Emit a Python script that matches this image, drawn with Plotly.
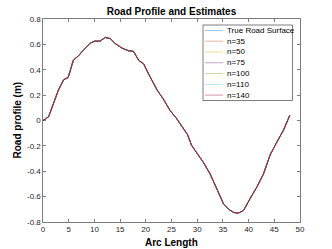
import plotly.graph_objects as go

# ---- data ----
arc_length = [0, 1.1, 2.0, 3.0, 4.0, 4.9, 5.9, 6.9, 8.2, 9.2, 10.0, 11.1, 12.1, 13.1,
              14.1, 15.4, 16.6, 17.6, 18.6, 19.6, 20.5, 22.2, 23.4, 24.7, 26.0, 27.3,
              28.1, 28.9, 29.9, 31.2, 32.5, 33.8, 35.1, 36.1, 37.1, 38.0, 39.0, 40.3,
              41.6, 42.9, 44.2, 45.5, 46.8, 48.0]
true_profile = [0, 0.03, 0.13, 0.24, 0.32, 0.34, 0.475, 0.51, 0.57, 0.61, 0.625, 0.625,
                0.655, 0.645, 0.605, 0.57, 0.55, 0.545, 0.475, 0.445, 0.37, 0.24, 0.17,
                0.08, 0.015, -0.063, -0.11, -0.195, -0.25, -0.33, -0.42, -0.535, -0.655,
                -0.70, -0.725, -0.73, -0.71, -0.615, -0.525, -0.42, -0.27, -0.17, -0.075,
                0.04]
# estimates are visually indistinguishable from the true surface
est_n35 = list(true_profile)
est_n50 = list(true_profile)
est_n75 = list(true_profile)
est_n100 = list(true_profile)
est_n110 = list(true_profile)
est_n140 = list(true_profile)

series_names = ["True Road Surface", "n=35", "n=50", "n=75", "n=100", "n=110", "n=140"]
series_values = [true_profile, est_n35, est_n50, est_n75, est_n100, est_n110, est_n140]
x_ticks = [0, 5, 10, 15, 20, 25, 30, 35, 40, 45, 50]
y_ticks = [-0.8, -0.6, -0.4, -0.2, 0, 0.2, 0.4, 0.6, 0.8]

colors = ["#0072BD", "#D95319", "#EDB120", "#7E2F8E", "#77AC30", "#4DBEEE", "#A2142F"]

W, H = 332, 249
L, R, T, B = 43, 300, 19, 222  # plot area in pixels

def px_x(p):
    return (p - L) / (R - L)

def px_y(p):
    return (B - p) / (B - T)

fig = go.Figure()
for name, vals, c in zip(series_names, series_values, colors):
    fig.add_trace(go.Scatter(x=arc_length, y=vals, mode="lines", name=name,
                             line=dict(color=c, width=1), showlegend=False,
                             hoverinfo="skip"))

axis_common = dict(showgrid=False, zeroline=False, showline=True, linecolor="#262626",
                   linewidth=0.6, mirror="ticks", ticks="inside", ticklen=3,
                   tickcolor="#262626", tickwidth=0.6,
                   tickfont=dict(family="Liberation Sans, Arial", size=8, color="#262626"))

fig.update_layout(
    width=W, height=H,
    margin=dict(l=L, r=W - R, t=T, b=H - B),
    plot_bgcolor="white", paper_bgcolor="white",
    title=dict(text="<b>Road Profile and Estimates</b>", x=(L + R) / 2 / W, xanchor="center",
               y=1 - 11 / H, yanchor="middle", yref="container",
               font=dict(family="Liberation Sans, Arial", size=10, color="black")),
    xaxis=dict(range=[0, 50], tickvals=x_ticks, ticktext=[str(v) for v in x_ticks], **axis_common),
    yaxis=dict(range=[-0.8, 0.8], tickvals=y_ticks,
               ticktext=[("%g" % v) for v in y_ticks], **axis_common),
    showlegend=False,
)

# axis titles
fig.add_annotation(text="<b>Arc Length</b>", xref="paper", yref="paper",
                   x=0.5, y=px_y(242), xanchor="center", yanchor="middle", showarrow=False,
                   font=dict(family="Liberation Sans, Arial", size=10, color="black"))
fig.add_annotation(text="<b>Road profile (m)</b>", xref="paper", yref="paper",
                   x=px_x(17), y=0.5, xanchor="center", yanchor="middle", showarrow=False,
                   textangle=-90,
                   font=dict(family="Liberation Sans, Arial", size=10, color="black"))

# legend box (drawn manually to match compact MATLAB legend)
box_l, box_r, box_t, box_b = 203, 292.5, 25, 100.5
fig.add_shape(type="rect", xref="paper", yref="paper",
              x0=px_x(box_l), x1=px_x(box_r), y0=px_y(box_b), y1=px_y(box_t),
              line=dict(color="#262626", width=0.6), fillcolor="white", layer="above")
row_h = (box_b - box_t) / len(series_names)
for i, (name, c) in enumerate(zip(series_names, colors)):
    yc = box_t + row_h * (i + 0.5)
    fig.add_shape(type="line", xref="paper", yref="paper",
                  x0=px_x(205), x1=px_x(223), y0=px_y(yc), y1=px_y(yc),
                  line=dict(color=c, width=0.6), opacity=0.75, layer="above")
    fig.add_annotation(text=name, xref="paper", yref="paper", x=px_x(225), y=px_y(yc),
                       xanchor="left", yanchor="middle", showarrow=False,
                       font=dict(family="Liberation Sans, Arial", size=8, color="black"))

fig.write_html("out.html", config={"displayModeBar": False, "staticPlot": True},
               post_script="document.body.style.margin='0';document.body.style.padding='0';")
